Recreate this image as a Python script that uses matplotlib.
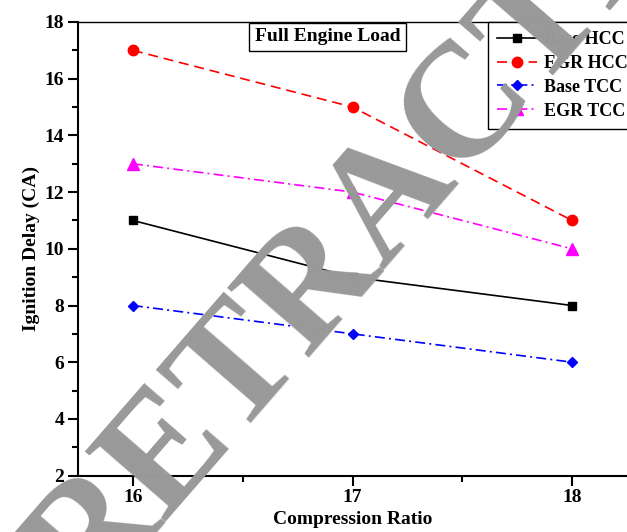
import matplotlib
matplotlib.use("Agg")
from matplotlib import pyplot as plt
from matplotlib.ticker import MultipleLocator

plt.rcParams["font.family"] = ["Liberation Serif", "DejaVu Serif"]

compression_ratio = [16, 17, 18]
base_hcc = [11, 9, 8]
egr_hcc = [17, 15, 11]
base_tcc = [8, 7, 6]
egr_tcc = [13, 12, 10]

fig = plt.figure(figsize=(6.27, 5.32), dpi=100)
ax = fig.add_axes([78/627, 1 - 475.6/532, 549/627, (475.6 - 22)/532])

ax.plot(compression_ratio, base_hcc, color="black", ls="-", lw=1.2,
        marker="s", ms=6, label="Base HCC")
ax.plot(compression_ratio, egr_hcc, color="red", ls=(0, (6, 3.5)), lw=1.2,
        marker="o", ms=7.5, label="EGR HCC")
ax.plot(compression_ratio, base_tcc, color="blue", ls=(0, (6, 2.5, 1.2, 2.5)), lw=1.2,
        marker="D", ms=5.5, label="Base TCC")
ax.plot(compression_ratio, egr_tcc, color="magenta", ls=(0, (6, 2.5, 1.2, 2.5)), lw=1.2,
        marker="^", ms=8, label="EGR TCC")

ax.set_xlim(15.75, 18.25)
ax.set_ylim(2, 18)
ax.xaxis.set_major_locator(MultipleLocator(1))
ax.xaxis.set_minor_locator(MultipleLocator(0.5))
ax.yaxis.set_major_locator(MultipleLocator(2))
ax.yaxis.set_minor_locator(MultipleLocator(1))
ax.tick_params(which="major", direction="out", length=7, width=1.5,
               labelsize=14, pad=3)
ax.tick_params(which="minor", direction="out", length=4, width=1.5)
for lab in ax.get_xticklabels() + ax.get_yticklabels():
    lab.set_fontweight("bold")

ax.spines["right"].set_visible(False)
ax.spines["left"].set_linewidth(1.5)
ax.spines["bottom"].set_linewidth(1.5)
ax.spines["top"].set_linewidth(1.0)

ax.set_xlabel("Compression Ratio", fontsize=14, fontweight="bold", labelpad=3)
ax.set_ylabel("Ignition Delay (CA)", fontsize=14, fontweight="bold", labelpad=3)

ax.text(0.455, 0.967, "Full Engine Load", transform=ax.transAxes,
        ha="center", va="center", fontsize=14, fontweight="bold",
        bbox=dict(boxstyle="square,pad=0.3", fc="white", ec="black", lw=1))

leg = ax.legend(loc="upper left", bbox_to_anchor=((488 - 78)/549, 1.0),
                fancybox=False, edgecolor="black", framealpha=1,
                prop={"weight": "bold", "size": 13}, handlelength=2.2,
                handletextpad=0.4, labelspacing=0.38, borderaxespad=0,
                borderpad=0.5)
leg.get_frame().set_linewidth(1)

# watermark over the whole figure
fig.text(421/627, 1 - 225/532, "RETRACTED", fontsize=117, color="#999999",
         fontweight="bold", rotation=49, ha="center", va="baseline",
         rotation_mode="anchor")

fig.savefig("out.png", dpi=100)
